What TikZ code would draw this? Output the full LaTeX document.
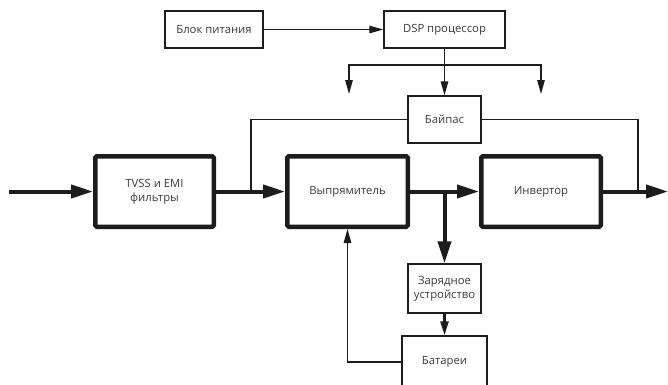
\documentclass[tikz,border=0pt]{standalone}
\usepackage{fontspec}
\setmainfont{Open Sans}
\usepackage{tikz}
\usetikzlibrary{arrows.meta,positioning,calc}
\definecolor{ink}{HTML}{1C1C1C}
\definecolor{txt}{HTML}{3A3A3A}

\begin{document}
\begin{tikzpicture}[x=1pt,y=-1pt,
    font=\fontsize{11.3}{14}\selectfont,
    thin box/.style={draw=ink, line width=1.4pt, text=txt, align=center, inner sep=0pt},
    thick box/.style={draw=ink, line width=4.5pt, rounded corners=1.5pt, text=txt, align=center, inner sep=0pt},
    wire/.style={draw=ink, line width=1.3pt},
    sig/.style={wire, -{Triangle[length=14pt,width=7.5pt]}},
    bus/.style={draw=ink, line width=4pt, -{Triangle[length=22pt,width=13pt]}},
    mid/.style={draw=ink, line width=2.5pt, -{Triangle[length=14pt,width=8pt]}}]
			\useasboundingbox (0,0) rectangle (668,384);
			
			\node[thin box, minimum width=98pt, minimum height=37pt] (pit) at (214,29.5) {Блок питания};
			\node[thin box, minimum width=121pt, minimum height=37pt] (dsp) at (444.5,29.5) {DSP процессор};
			\node[thin box, minimum width=73pt, minimum height=47pt] (bypass) at (444.5,119.5) {Байпас};
			
			\node[thick box, minimum width=118.5pt, minimum height=70.5pt] (tvss) at (154.5,191.5) {TVSS и EMI\\фильтры};
			\node[thick box, minimum width=120.5pt, minimum height=70.5pt] (rect) at (347.5,191.5) {Выпрямитель};
			\node[thick box, minimum width=119.5pt, minimum height=70.5pt] (inv) at (541,191.5) {Инвертор};
			
			\node[thin box, minimum width=73pt, minimum height=49pt] (charger) at (444.5,288.5) {Зарядное\\устройство};
			\node[thin box, minimum width=85pt, minimum height=52pt] (batt) at (444.5,362) {Батареи};
			
			\coordinate (split) at (444.5,65);
			\coordinate (tipL) at (349,94);
			\coordinate (tipR) at (541,94);
			\coordinate (in) at (9,191.5);
			\coordinate (out) at (668,191.5);
			\coordinate (tapL) at (251,191.5);
			\coordinate (tapR) at (638,191.5);
			\coordinate (tapC) at (444.5,191.5);
			
			\draw[sig] (pit) -- (dsp);
			\draw[sig] (dsp) -- (bypass);
			\draw[sig] (split) -| (tipL);
			\draw[sig] (split) -| (tipR);
			
			\draw[wire] (bypass.west) -| (tapL);
			\draw[wire] (bypass.east) -| (tapR);
			
			\draw[bus] (in) -- (tvss);
			\draw[bus] (tvss) -- (rect);
			\draw[bus] (rect) -- (inv);
			\draw[bus] (inv) -- (out);
			\draw[bus] (tapC) -- (charger);
			
			\draw[mid] (charger) -- (batt);
			\draw[sig] (batt.west) -| (rect.south);
\end{tikzpicture}
\end{document}
